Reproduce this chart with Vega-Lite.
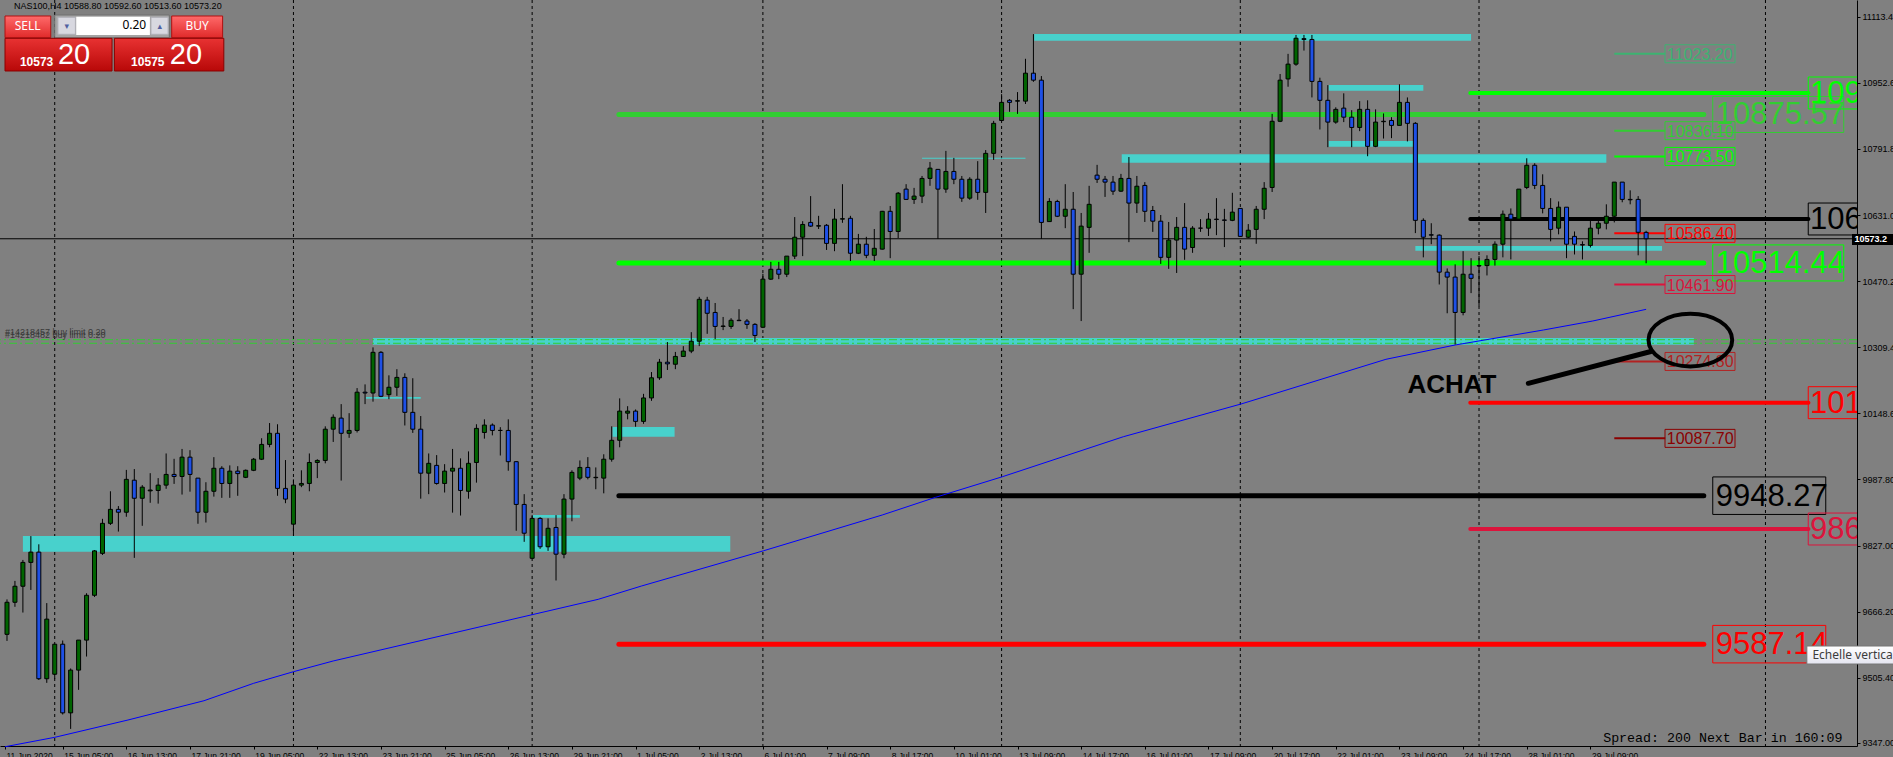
{
  "$schema": "https://vega.github.io/schema/vega-lite/v6.json",
  "width": 1857,
  "height": 746,
  "autosize": {"type": "none"},
  "padding": {"left": 0, "top": 0, "right": 36, "bottom": 11},
  "background": "#808080",
  "config": {
    "view": {"stroke": null},
    "axis": {"zindex": 0},
    "text": {"font": "Liberation Sans"}
  },
  "datasets": {
    "candles": [
      {"i":0,"o":9611,"h":9696,"l":9595,"c":9689},
      {"i":1,"o":9689,"h":9741,"l":9678,"c":9728},
      {"i":2,"o":9728,"h":9792,"l":9664,"c":9786},
      {"i":3,"o":9786,"h":9850,"l":9719,"c":9811},
      {"i":4,"o":9811,"h":9830,"l":9500,"c":9503},
      {"i":5,"o":9503,"h":9687,"l":9493,"c":9648},
      {"i":6,"o":9514,"h":9587,"l":9503,"c":9587},
      {"i":7,"o":9587,"h":9596,"l":9416,"c":9420},
      {"i":8,"o":9420,"h":9528,"l":9381,"c":9524},
      {"i":9,"o":9524,"h":9597,"l":9476,"c":9597},
      {"i":10,"o":9597,"h":9711,"l":9557,"c":9706},
      {"i":11,"o":9706,"h":9816,"l":9702,"c":9814},
      {"i":12,"o":9808,"h":9892,"l":9804,"c":9881},
      {"i":13,"o":9881,"h":9959,"l":9877,"c":9915},
      {"i":14,"o":9915,"h":9923,"l":9861,"c":9908},
      {"i":15,"o":9908,"h":10011,"l":9897,"c":9988},
      {"i":16,"o":9986,"h":10013,"l":9797,"c":9942},
      {"i":17,"o":9942,"h":9974,"l":9875,"c":9969},
      {"i":18,"o":9960,"h":10003,"l":9931,"c":9962},
      {"i":19,"o":9961,"h":9991,"l":9929,"c":9974},
      {"i":20,"o":9974,"h":10051,"l":9965,"c":10000},
      {"i":21,"o":10000,"h":10038,"l":9977,"c":9995},
      {"i":22,"o":9995,"h":10062,"l":9951,"c":10042},
      {"i":23,"o":10042,"h":10059,"l":9958,"c":10000},
      {"i":24,"o":9991,"h":9991,"l":9880,"c":9908},
      {"i":25,"o":9908,"h":9981,"l":9883,"c":9959},
      {"i":26,"o":9959,"h":10042,"l":9946,"c":10015},
      {"i":27,"o":10015,"h":10020,"l":9943,"c":9978},
      {"i":28,"o":9978,"h":10022,"l":9943,"c":10008},
      {"i":29,"o":10008,"h":10020,"l":9948,"c":10002},
      {"i":30,"o":9993,"h":10012,"l":9991,"c":10010},
      {"i":31,"o":10010,"h":10040,"l":10008,"c":10037},
      {"i":32,"o":10037,"h":10088,"l":10035,"c":10073},
      {"i":33,"o":10073,"h":10125,"l":10066,"c":10100},
      {"i":34,"o":10100,"h":10122,"l":9948,"c":9966},
      {"i":35,"o":9966,"h":10035,"l":9930,"c":9940},
      {"i":36,"o":9879,"h":9988,"l":9854,"c":9974},
      {"i":37,"o":9974,"h":10010,"l":9969,"c":9978},
      {"i":38,"o":9978,"h":10051,"l":9959,"c":10029},
      {"i":39,"o":10029,"h":10037,"l":9991,"c":10034},
      {"i":40,"o":10034,"h":10117,"l":10027,"c":10110},
      {"i":41,"o":10110,"h":10146,"l":10079,"c":10139},
      {"i":42,"o":10137,"h":10171,"l":9985,"c":10100},
      {"i":43,"o":10100,"h":10149,"l":10089,"c":10107},
      {"i":44,"o":10107,"h":10210,"l":10102,"c":10200},
      {"i":45,"o":10200,"h":10219,"l":10171,"c":10198},
      {"i":46,"o":10198,"h":10309,"l":10177,"c":10297},
      {"i":47,"o":10297,"h":10300,"l":10188,"c":10190},
      {"i":48,"o":10194,"h":10241,"l":10183,"c":10212},
      {"i":49,"o":10212,"h":10256,"l":10191,"c":10236},
      {"i":50,"o":10236,"h":10246,"l":10119,"c":10151},
      {"i":51,"o":10151,"h":10234,"l":10101,"c":10110},
      {"i":52,"o":10110,"h":10142,"l":9941,"c":10003},
      {"i":53,"o":10003,"h":10051,"l":9952,"c":10027},
      {"i":54,"o":10022,"h":10047,"l":9975,"c":9978},
      {"i":55,"o":9978,"h":10025,"l":9956,"c":10008},
      {"i":56,"o":10008,"h":10062,"l":9907,"c":10015},
      {"i":57,"o":10015,"h":10039,"l":9900,"c":9961},
      {"i":58,"o":9959,"h":10056,"l":9941,"c":10027},
      {"i":59,"o":10029,"h":10122,"l":9980,"c":10112},
      {"i":60,"o":10102,"h":10134,"l":10087,"c":10120},
      {"i":61,"o":10120,"h":10124,"l":10095,"c":10107},
      {"i":62,"o":10107,"h":10115,"l":10046,"c":10107},
      {"i":63,"o":10107,"h":10134,"l":10009,"c":10031},
      {"i":64,"o":10031,"h":10032,"l":9863,"c":9927},
      {"i":65,"o":9927,"h":9952,"l":9836,"c":9857},
      {"i":66,"o":9796,"h":9901,"l":9796,"c":9893},
      {"i":67,"o":9893,"h":9896,"l":9819,"c":9824},
      {"i":68,"o":9824,"h":9893,"l":9814,"c":9869},
      {"i":69,"o":9871,"h":9901,"l":9742,"c":9806},
      {"i":70,"o":9806,"h":9952,"l":9796,"c":9940},
      {"i":71,"o":9940,"h":10010,"l":9886,"c":10005},
      {"i":72,"o":9991,"h":10034,"l":9986,"c":10017},
      {"i":73,"o":10017,"h":10042,"l":9988,"c":9993},
      {"i":74,"o":9992,"h":10017,"l":9964,"c":9993},
      {"i":75,"o":9991,"h":10049,"l":9954,"c":10037},
      {"i":76,"o":10037,"h":10117,"l":10031,"c":10083},
      {"i":77,"o":10083,"h":10185,"l":10066,"c":10154},
      {"i":78,"o":10149,"h":10166,"l":10134,"c":10154},
      {"i":79,"o":10154,"h":10158,"l":10116,"c":10129},
      {"i":80,"o":10129,"h":10196,"l":10123,"c":10186},
      {"i":81,"o":10186,"h":10249,"l":10179,"c":10235},
      {"i":82,"o":10235,"h":10281,"l":10230,"c":10273},
      {"i":83,"o":10273,"h":10322,"l":10254,"c":10269},
      {"i":84,"o":10268,"h":10298,"l":10256,"c":10287},
      {"i":85,"o":10287,"h":10312,"l":10286,"c":10300},
      {"i":86,"o":10300,"h":10346,"l":10295,"c":10324},
      {"i":87,"o":10324,"h":10432,"l":10312,"c":10426},
      {"i":88,"o":10424,"h":10432,"l":10342,"c":10392},
      {"i":89,"o":10394,"h":10417,"l":10329,"c":10360},
      {"i":90,"o":10360,"h":10383,"l":10351,"c":10361},
      {"i":91,"o":10360,"h":10380,"l":10354,"c":10375},
      {"i":92,"o":10375,"h":10402,"l":10373,"c":10374},
      {"i":93,"o":10373,"h":10378,"l":10354,"c":10365},
      {"i":94,"o":10365,"h":10368,"l":10322,"c":10338},
      {"i":95,"o":10358,"h":10488,"l":10356,"c":10475},
      {"i":96,"o":10475,"h":10517,"l":10473,"c":10499},
      {"i":97,"o":10499,"h":10517,"l":10475,"c":10487},
      {"i":98,"o":10487,"h":10531,"l":10480,"c":10531},
      {"i":99,"o":10531,"h":10626,"l":10524,"c":10577},
      {"i":100,"o":10577,"h":10616,"l":10531,"c":10608},
      {"i":101,"o":10613,"h":10677,"l":10602,"c":10604},
      {"i":102,"o":10604,"h":10629,"l":10597,"c":10605},
      {"i":103,"o":10606,"h":10609,"l":10546,"c":10562},
      {"i":104,"o":10562,"h":10646,"l":10543,"c":10621},
      {"i":105,"o":10621,"h":10706,"l":10612,"c":10622},
      {"i":106,"o":10623,"h":10629,"l":10519,"c":10538},
      {"i":107,"o":10538,"h":10585,"l":10536,"c":10560},
      {"i":108,"o":10560,"h":10578,"l":10526,"c":10533},
      {"i":109,"o":10533,"h":10597,"l":10519,"c":10550},
      {"i":110,"o":10548,"h":10641,"l":10547,"c":10640},
      {"i":111,"o":10640,"h":10653,"l":10526,"c":10591},
      {"i":112,"o":10591,"h":10687,"l":10575,"c":10684},
      {"i":113,"o":10694,"h":10706,"l":10668,"c":10669},
      {"i":114,"o":10669,"h":10697,"l":10658,"c":10677},
      {"i":115,"o":10677,"h":10726,"l":10660,"c":10720},
      {"i":116,"o":10720,"h":10760,"l":10702,"c":10745},
      {"i":117,"o":10742,"h":10743,"l":10573,"c":10694},
      {"i":118,"o":10694,"h":10787,"l":10685,"c":10737},
      {"i":119,"o":10737,"h":10770,"l":10706,"c":10718},
      {"i":120,"o":10718,"h":10726,"l":10663,"c":10672},
      {"i":121,"o":10672,"h":10723,"l":10668,"c":10718},
      {"i":122,"o":10718,"h":10762,"l":10668,"c":10686},
      {"i":123,"o":10686,"h":10789,"l":10636,"c":10781},
      {"i":124,"o":10781,"h":10860,"l":10765,"c":10854},
      {"i":125,"o":10861,"h":10925,"l":10861,"c":10905},
      {"i":126,"o":10910,"h":10913,"l":10882,"c":10905},
      {"i":127,"o":10908,"h":10930,"l":10877,"c":10909},
      {"i":128,"o":10908,"h":11011,"l":10901,"c":10976},
      {"i":129,"o":10976,"h":11071,"l":10955,"c":10959},
      {"i":130,"o":10959,"h":10969,"l":10573,"c":10613},
      {"i":131,"o":10615,"h":10672,"l":10614,"c":10664},
      {"i":132,"o":10664,"h":10668,"l":10626,"c":10628},
      {"i":133,"o":10628,"h":10706,"l":10599,"c":10645},
      {"i":134,"o":10645,"h":10687,"l":10402,"c":10487},
      {"i":135,"o":10487,"h":10636,"l":10373,"c":10604},
      {"i":136,"o":10601,"h":10702,"l":10539,"c":10657},
      {"i":137,"o":10728,"h":10753,"l":10709,"c":10718},
      {"i":138,"o":10718,"h":10726,"l":10675,"c":10711},
      {"i":139,"o":10711,"h":10726,"l":10680,"c":10689},
      {"i":140,"o":10689,"h":10731,"l":10687,"c":10720},
      {"i":141,"o":10720,"h":10772,"l":10565,"c":10660},
      {"i":142,"o":10660,"h":10726,"l":10636,"c":10701},
      {"i":143,"o":10703,"h":10711,"l":10614,"c":10640},
      {"i":144,"o":10642,"h":10653,"l":10590,"c":10616},
      {"i":145,"o":10616,"h":10631,"l":10512,"c":10528},
      {"i":146,"o":10528,"h":10614,"l":10500,"c":10570},
      {"i":147,"o":10570,"h":10626,"l":10490,"c":10601},
      {"i":148,"o":10601,"h":10660,"l":10522,"c":10548},
      {"i":149,"o":10552,"h":10604,"l":10539,"c":10599},
      {"i":150,"o":10599,"h":10621,"l":10590,"c":10599},
      {"i":151,"o":10599,"h":10636,"l":10580,"c":10621},
      {"i":152,"o":10621,"h":10672,"l":10582,"c":10620},
      {"i":153,"o":10619,"h":10646,"l":10553,"c":10618},
      {"i":154,"o":10618,"h":10685,"l":10616,"c":10638},
      {"i":155,"o":10647,"h":10648,"l":10578,"c":10579},
      {"i":156,"o":10577,"h":10609,"l":10575,"c":10594},
      {"i":157,"o":10596,"h":10653,"l":10561,"c":10645},
      {"i":158,"o":10645,"h":10711,"l":10621,"c":10696},
      {"i":159,"o":10698,"h":10877,"l":10687,"c":10859},
      {"i":160,"o":10859,"h":10974,"l":10857,"c":10959},
      {"i":161,"o":10962,"h":11023,"l":10943,"c":10998},
      {"i":162,"o":10998,"h":11069,"l":10994,"c":11061},
      {"i":163,"o":11060,"h":11069,"l":11031,"c":11058},
      {"i":164,"o":11058,"h":11069,"l":10917,"c":10956},
      {"i":165,"o":10956,"h":10965,"l":10839,"c":10910},
      {"i":166,"o":10910,"h":10947,"l":10796,"c":10857},
      {"i":167,"o":10857,"h":10893,"l":10853,"c":10888},
      {"i":168,"o":10891,"h":10927,"l":10857,"c":10869},
      {"i":169,"o":10869,"h":10886,"l":10796,"c":10844},
      {"i":170,"o":10844,"h":10908,"l":10835,"c":10888},
      {"i":171,"o":10888,"h":10910,"l":10774,"c":10798},
      {"i":172,"o":10798,"h":10888,"l":10796,"c":10857},
      {"i":173,"o":10858,"h":10878,"l":10817,"c":10859},
      {"i":174,"o":10861,"h":10869,"l":10818,"c":10849},
      {"i":175,"o":10849,"h":10949,"l":10849,"c":10905},
      {"i":176,"o":10905,"h":10917,"l":10810,"c":10854},
      {"i":177,"o":10854,"h":10857,"l":10587,"c":10618},
      {"i":178,"o":10618,"h":10623,"l":10528,"c":10577},
      {"i":179,"o":10583,"h":10611,"l":10560,"c":10582},
      {"i":180,"o":10582,"h":10584,"l":10462,"c":10492},
      {"i":181,"o":10492,"h":10501,"l":10392,"c":10480},
      {"i":182,"o":10480,"h":10511,"l":10316,"c":10394},
      {"i":183,"o":10394,"h":10543,"l":10387,"c":10487},
      {"i":184,"o":10487,"h":10526,"l":10441,"c":10477},
      {"i":185,"o":10507,"h":10531,"l":10409,"c":10508},
      {"i":186,"o":10508,"h":10533,"l":10484,"c":10523},
      {"i":187,"o":10523,"h":10567,"l":10508,"c":10560},
      {"i":188,"o":10560,"h":10642,"l":10528,"c":10633},
      {"i":189,"o":10633,"h":10647,"l":10523,"c":10621},
      {"i":190,"o":10621,"h":10694,"l":10620,"c":10694},
      {"i":191,"o":10698,"h":10769,"l":10694,"c":10752},
      {"i":192,"o":10752,"h":10757,"l":10694,"c":10703},
      {"i":193,"o":10703,"h":10730,"l":10635,"c":10647},
      {"i":194,"o":10647,"h":10672,"l":10567,"c":10596},
      {"i":195,"o":10599,"h":10664,"l":10584,"c":10650},
      {"i":196,"o":10650,"h":10650,"l":10526,"c":10560},
      {"i":197,"o":10579,"h":10591,"l":10535,"c":10560},
      {"i":198,"o":10559,"h":10567,"l":10523,"c":10558},
      {"i":199,"o":10557,"h":10618,"l":10552,"c":10599},
      {"i":200,"o":10599,"h":10618,"l":10584,"c":10611},
      {"i":201,"o":10611,"h":10657,"l":10596,"c":10628},
      {"i":202,"o":10628,"h":10711,"l":10613,"c":10711},
      {"i":203,"o":10711,"h":10711,"l":10662,"c":10669},
      {"i":204,"o":10669,"h":10691,"l":10657,"c":10668},
      {"i":205,"o":10669,"h":10677,"l":10533,"c":10589},
      {"i":206,"o":10588.8,"h":10592.6,"l":10513.6,"c":10573.2}
    ],
    "ma": [
      {"i":-0.25,"v":9337.6},{"i":6,"v":9360.5},{"i":15.2,"v":9402.6},{"i":24.75,"v":9449.5},
      {"i":31,"v":9491.9},{"i":36,"v":9520.1},{"i":41,"v":9546.2},{"i":74.3,"v":9696.2},
      {"i":79.75,"v":9728.6},{"i":95.1,"v":9814.4},{"i":110,"v":9901.3},{"i":116.7,"v":9944.3},
      {"i":125.1,"v":9994.4},{"i":140.3,"v":10091.7},{"i":155.1,"v":10171.3},{"i":173.3,"v":10280},
      {"i":182,"v":10314.8},{"i":193.1,"v":10351.3},{"i":199.3,"v":10373.2},{"i":206,"v":10401.6}
    ],
    "zones": [
      {"i0":129.1,"i1":184,"top":11071.3,"bottom":11055.0},
      {"i0":166.1,"i1":178,"top":10947.2,"bottom":10933.4},
      {"i0":140.1,"i1":201,"top":10778.7,"bottom":10758.2},
      {"i0":166.1,"i1":176.75,"top":10811.0,"bottom":10797.2},
      {"i0":177,"i1":208,"top":10555.6,"bottom":10544.2},
      {"i0":46,"i1":212,"top":10331.8,"bottom":10315.5},
      {"i0":45.1,"i1":52,"top":10188.3,"bottom":10184.2},
      {"i0":76.1,"i1":83.9,"top":10115.3,"bottom":10091.7},
      {"i0":66.1,"i1":72,"top":9901.3,"bottom":9894.7},
      {"i0":2,"i1":90.9,"top":9850.2,"bottom":9812.0},
      {"i0":115,"i1":128,"top":10770.1,"bottom":10767.7}
    ],
    "levels": [
      {"set":"W","role":"R2","price":10875.57},
      {"set":"W","role":"R1","price":10514.44},
      {"set":"W","role":"P","price":9948.27},
      {"set":"W","role":"S1","price":9587.14},
      {"set":"D","role":"R1","price":10927.8},
      {"set":"D","role":"P","price":10621.3},
      {"set":"D","role":"S1","price":10174.5},
      {"set":"D","role":"S2","price":9867.2},
      {"set":"M","role":"R3","price":11023.2},
      {"set":"M","role":"R2","price":10836.1},
      {"set":"M","role":"R1","price":10773.5},
      {"set":"M","role":"S1","price":10586.4},
      {"set":"M","role":"S2","price":10461.9},
      {"set":"M","role":"S3","price":10274.8},
      {"set":"M","role":"S4","price":10087.7}
    ],
    "orders": [
      {"label":"#14218457 buy limit 0.20","price":10327.7},
      {"label":"#14218482 buy limit 0.20","price":10319.0}
    ],
    "separators": [{"i":6},{"i":36},{"i":66},{"i":95},{"i":125},{"i":155},{"i":185},{"i":221}]
  },
  "layer": [
    {
      "data": {"name": "separators"},
      "mark": {"type": "rule", "color": "#000000", "strokeWidth": 1, "strokeDash": [3, 3]},
      "encoding": {
        "x": {"field": "i", "type": "quantitative", "title": null,
          "scale": {"domain": [-0.25, 231.875], "nice": false, "zero": false},
          "axis": {
            "title": null, "grid": false,
            "values": [-0.25,7,15,23,31,39,47,55,63,71,79,87,95,103,111,119,127,135,143,151,159,167,175,183,191,199],
            "labelExpr": "datum.value < 0 ? '11 Jun 2020' : ['15 Jun 05:00','16 Jun 13:00','17 Jun 21:00','19 Jun 05:00','22 Jun 13:00','23 Jun 21:00','25 Jun 05:00','26 Jun 13:00','29 Jun 21:00','1 Jul 05:00','2 Jul 13:00','6 Jul 01:00','7 Jul 09:00','8 Jul 17:00','10 Jul 01:00','13 Jul 09:00','14 Jul 17:00','16 Jul 01:00','17 Jul 09:00','20 Jul 17:00','22 Jul 01:00','23 Jul 09:00','24 Jul 17:00','28 Jul 01:00','29 Jul 09:00'][(datum.value - 7) / 8]",
            "domainColor": "#000000", "domainWidth": 1, "tickColor": "#000000", "tickSize": 3,
            "labelColor": "#000000", "labelFont": "Liberation Sans", "labelFontSize": 8.5,
            "labelAlign": "left", "labelBaseline": "top", "labelPadding": 2, "labelOffset": 1,
            "labelOverlap": false, "labelFlush": false, "labelBound": false
          }
        }
      }
    },
    {
      "data": {"name": "zones"},
      "mark": {"type": "rect", "color": "#48d1cc"},
      "encoding": {
        "x": {"field": "i0", "type": "quantitative", "title": null},
        "x2": {"field": "i1"},
        "y": {"field": "top", "type": "quantitative", "title": null,
          "scale": {"domain": [9339.4, 11154], "nice": false, "zero": false},
          "axis": {
            "title": null, "grid": false, "orient": "right", "format": ".2f",
            "values": [9347.0,9426.2,9505.4,9587.0,9666.2,9747.8,9827.0,9908.6,9987.8,10069.4,10148.6,10230.2,10309.4,10388.6,10470.2,10549.4,10631.0,10710.2,10791.8,10871.0,10952.6,11031.8,11113.4],
            "domainColor": "#000000", "domainWidth": 1, "tickColor": "#000000", "tickSize": 3,
            "labelColor": "#000000", "labelFont": "Liberation Sans", "labelFontSize": 9,
            "labelAlign": "left", "labelBaseline": "middle", "labelPadding": 2,
            "labelOverlap": false, "labelFlush": false, "labelBound": false
          }
        },
        "y2": {"field": "bottom"}
      }
    },
    {
      "data": {"name": "orders"},
      "mark": {"type": "rule", "color": "#32cd32", "strokeWidth": 1, "strokeDash": [8, 3, 2, 3]},
      "encoding": {"y": {"field": "price", "type": "quantitative", "title": null}}
    },
    {
      "data": {"name": "orders"},
      "mark": {"type": "text", "align": "left", "baseline": "bottom", "dy": -3, "fontSize": 9, "color": "#3a3a3a", "font": "Liberation Sans"},
      "encoding": {
        "x": {"datum": -0.25, "type": "quantitative"},
        "y": {"field": "price", "type": "quantitative", "title": null},
        "text": {"field": "label", "type": "nominal"}
      }
    },
    {
      "data": {"name": "levels"},
      "transform": [{"filter": "datum.set == 'W'"}],
      "mark": {"type": "rule", "strokeWidth": 5, "strokeCap": "round"},
      "encoding": {
        "x": {"datum": 76.9, "type": "quantitative"},
        "x2": {"datum": 213.25},
        "y": {"field": "price", "type": "quantitative", "title": null},
        "color": {"field": "role", "type": "nominal", "legend": null,
          "scale": {"domain": ["R3","R2","R1","P","S1","S2","S3","S4"], "range": ["#3cb371","#32cd32","#00ff00","#000000","#ff0000","#dc143c","#b22222","#8b0000"]}}
      }
    },
    {
      "data": {"name": "levels"},
      "transform": [{"filter": "datum.set == 'D'"}],
      "mark": {"type": "rule", "strokeWidth": 4, "strokeCap": "round"},
      "encoding": {
        "x": {"datum": 183.9, "type": "quantitative"},
        "x2": {"datum": 226.4},
        "y": {"field": "price", "type": "quantitative", "title": null},
        "color": {"field": "role", "type": "nominal", "legend": null,
          "scale": {"domain": ["R3","R2","R1","P","S1","S2","S3","S4"], "range": ["#3cb371","#32cd32","#00ff00","#000000","#ff0000","#dc143c","#b22222","#8b0000"]}}
      }
    },
    {
      "data": {"name": "levels"},
      "transform": [{"filter": "datum.set == 'M'"}],
      "mark": {"type": "rule", "strokeWidth": 2},
      "encoding": {
        "x": {"datum": 202, "type": "quantitative"},
        "x2": {"datum": 208.4},
        "y": {"field": "price", "type": "quantitative", "title": null},
        "color": {"field": "role", "type": "nominal", "legend": null,
          "scale": {"domain": ["R3","R2","R1","P","S1","S2","S3","S4"], "range": ["#3cb371","#32cd32","#00ff00","#000000","#ff0000","#dc143c","#b22222","#8b0000"]}}
      }
    },
    {
      "data": {"name": "ma"},
      "mark": {"type": "line", "color": "#0000ff", "strokeWidth": 1},
      "encoding": {
        "x": {"field": "i", "type": "quantitative", "title": null},
        "y": {"field": "v", "type": "quantitative", "title": null}
      }
    },
    {
      "data": {"values": [{}]},
      "mark": {"type": "rule", "color": "#000000", "strokeWidth": 1},
      "encoding": {"y": {"datum": 10573.2, "type": "quantitative"}}
    },
    {
      "data": {"name": "candles"},
      "mark": {"type": "rule", "color": "#000000", "strokeWidth": 1},
      "encoding": {
        "x": {"field": "i", "type": "quantitative", "title": null},
        "y": {"field": "l", "type": "quantitative", "title": null},
        "y2": {"field": "h"}
      }
    },
    {
      "data": {"name": "candles"},
      "mark": {"type": "bar", "width": 4, "stroke": "#000000", "strokeWidth": 1},
      "encoding": {
        "x": {"field": "i", "type": "quantitative", "title": null},
        "y": {"field": "o", "type": "quantitative", "title": null},
        "y2": {"field": "c"},
        "fill": {"condition": {"test": "datum.c >= datum.o", "value": "#006400"}, "value": "#1e50e6"}
      }
    },
    {
      "data": {"name": "levels"},
      "transform": [{"filter": "datum.set == 'W'"}],
      "mark": {"type": "point", "filled": false, "opacity": 1, "strokeWidth": 1},
      "encoding": {
        "x": {"datum": 214.375, "type": "quantitative"},
        "y": {"field": "price", "type": "quantitative", "title": null},
        "shape": {"condition": {"test": "datum.price >= 10000", "value": "M0,-0.275L2,-0.275L2,0.275L0,0.275Z"}, "value": "M0,-0.332L2,-0.332L2,0.332L0,0.332Z"},
        "size": {"condition": {"test": "datum.price >= 10000", "value": 17161}, "value": 12769},
        "color": {"field": "role", "type": "nominal", "legend": null,
          "scale": {"domain": ["R3","R2","R1","P","S1","S2","S3","S4"], "range": ["#3cb371","#32cd32","#00ff00","#000000","#ff0000","#dc143c","#b22222","#8b0000"]}}
      }
    },
    {
      "data": {"name": "levels"},
      "transform": [{"filter": "datum.set == 'W'"}],
      "mark": {"type": "text", "align": "left", "baseline": "middle", "fontSize": 31, "font": "Liberation Sans", "dy": 1},
      "encoding": {
        "x": {"datum": 214.75, "type": "quantitative"},
        "y": {"field": "price", "type": "quantitative", "title": null},
        "text": {"field": "price", "type": "quantitative", "format": ".2f"},
        "color": {"field": "role", "type": "nominal", "legend": null,
          "scale": {"domain": ["R3","R2","R1","P","S1","S2","S3","S4"], "range": ["#3cb371","#32cd32","#00ff00","#000000","#ff0000","#dc143c","#b22222","#8b0000"]}}
      }
    },
    {
      "data": {"name": "levels"},
      "transform": [{"filter": "datum.set == 'D'"}],
      "mark": {"type": "point", "filled": false, "opacity": 1, "strokeWidth": 1, "clip": true},
      "encoding": {
        "x": {"datum": 226.375, "type": "quantitative"},
        "y": {"field": "price", "type": "quantitative", "title": null},
        "shape": {"value": "M0,-0.244L2,-0.244L2,0.244L0,0.244Z"},
        "size": {"value": 17161},
        "color": {"field": "role", "type": "nominal", "legend": null,
          "scale": {"domain": ["R3","R2","R1","P","S1","S2","S3","S4"], "range": ["#3cb371","#32cd32","#00ff00","#000000","#ff0000","#dc143c","#b22222","#8b0000"]}}
      }
    },
    {
      "data": {"name": "levels"},
      "transform": [{"filter": "datum.set == 'D'"}],
      "mark": {"type": "text", "align": "left", "baseline": "middle", "fontSize": 31, "font": "Liberation Sans", "dy": 1, "clip": true},
      "encoding": {
        "x": {"datum": 226.6, "type": "quantitative"},
        "y": {"field": "price", "type": "quantitative", "title": null},
        "text": {"field": "price", "type": "quantitative", "format": ".2f"},
        "color": {"field": "role", "type": "nominal", "legend": null,
          "scale": {"domain": ["R3","R2","R1","P","S1","S2","S3","S4"], "range": ["#3cb371","#32cd32","#00ff00","#000000","#ff0000","#dc143c","#b22222","#8b0000"]}}
      }
    },
    {
      "data": {"name": "levels"},
      "transform": [{"filter": "datum.set == 'M'"}],
      "mark": {"type": "point", "filled": false, "opacity": 1, "strokeWidth": 1},
      "encoding": {
        "x": {"datum": 208.375, "type": "quantitative"},
        "y": {"field": "price", "type": "quantitative", "title": null},
        "shape": {"value": "M0,-0.257L2,-0.257L2,0.257L0,0.257Z"},
        "size": {"value": 4900},
        "color": {"field": "role", "type": "nominal", "legend": null,
          "scale": {"domain": ["R3","R2","R1","P","S1","S2","S3","S4"], "range": ["#3cb371","#32cd32","#00ff00","#000000","#ff0000","#dc143c","#b22222","#8b0000"]}}
      }
    },
    {
      "data": {"name": "levels"},
      "transform": [{"filter": "datum.set == 'M'"}],
      "mark": {"type": "text", "align": "left", "baseline": "middle", "fontSize": 16, "font": "Liberation Sans", "dy": 1},
      "encoding": {
        "x": {"datum": 208.6, "type": "quantitative"},
        "y": {"field": "price", "type": "quantitative", "title": null},
        "text": {"field": "price", "type": "quantitative", "format": ".2f"},
        "color": {"field": "role", "type": "nominal", "legend": null,
          "scale": {"domain": ["R3","R2","R1","P","S1","S2","S3","S4"], "range": ["#3cb371","#32cd32","#00ff00","#000000","#ff0000","#dc143c","#b22222","#8b0000"]}}
      }
    },
    {
      "data": {"values": [{}]},
      "mark": {"type": "point", "filled": false, "opacity": 1, "stroke": "#000000", "strokeWidth": 4},
      "encoding": {
        "x": {"datum": 211.56, "type": "quantitative"},
        "y": {"datum": 10326.9, "type": "quantitative"},
        "shape": {"value": "M-1,0A1,0.63 0 1,0 1,0A1,0.63 0 1,0 -1,0Z"},
        "size": {"value": 7006}
      }
    },
    {
      "data": {"values": [{}]},
      "mark": {"type": "rule", "color": "#000000", "strokeWidth": 5, "strokeCap": "round"},
      "encoding": {
        "x": {"datum": 191.2, "type": "quantitative"},
        "x2": {"datum": 206.6},
        "y": {"datum": 10221.6, "type": "quantitative"},
        "y2": {"datum": 10299}
      }
    },
    {
      "data": {"values": [{}]},
      "mark": {"type": "text", "text": "ACHAT", "align": "left", "baseline": "middle", "fontSize": 26, "fontWeight": "bold", "font": "Liberation Sans", "color": "#000000"},
      "encoding": {
        "x": {"datum": 176, "type": "quantitative"},
        "y": {"datum": 10217.5, "type": "quantitative"}
      }
    },
    {
      "data": {"values": [{}]},
      "mark": {"type": "text", "text": "NAS100,H4  10588.80 10592.60 10513.60 10573.20", "align": "left", "baseline": "middle", "fontSize": 9, "font": "Liberation Sans", "color": "#000000"},
      "encoding": {
        "x": {"datum": 0.875, "type": "quantitative"},
        "y": {"datum": 11138.2, "type": "quantitative"}
      }
    },
    {
      "data": {"values": [{}]},
      "mark": {"type": "rect", "stroke": "#707070", "strokeWidth": 1, "fill": "#a4a4a4"},
      "encoding": {
        "x": {"datum": 6, "type": "quantitative"}, "x2": {"datum": 20.4},
        "y": {"datum": 11117.5, "type": "quantitative"}, "y2": {"datum": 11062.3}
      }
    },
    {
      "data": {"values": [{}]},
      "mark": {"type": "rect", "fill": "#ffffff"},
      "encoding": {
        "x": {"datum": 8.7, "type": "quantitative"}, "x2": {"datum": 17.96},
        "y": {"datum": 11113.4, "type": "quantitative"}, "y2": {"datum": 11068.9}
      }
    },
    {
      "data": {"values": [{}]},
      "mark": {"type": "rect", "fill": "#d8d8e0", "stroke": "#b0b0b8", "strokeWidth": 1},
      "encoding": {
        "x": {"datum": 6.4, "type": "quantitative"}, "x2": {"datum": 8.6},
        "y": {"datum": 11111.9, "type": "quantitative"}, "y2": {"datum": 11070.6}
      }
    },
    {
      "data": {"values": [{}]},
      "mark": {"type": "rect", "fill": "#d8d8e0", "stroke": "#b0b0b8", "strokeWidth": 1},
      "encoding": {
        "x": {"datum": 18.1, "type": "quantitative"}, "x2": {"datum": 20.25},
        "y": {"datum": 11111.9, "type": "quantitative"}, "y2": {"datum": 11070.6}
      }
    },
    {
      "data": {"values": [{}]},
      "mark": {"type": "text", "text": "▾", "align": "center", "baseline": "middle", "fontSize": 9, "font": "DejaVu Sans", "color": "#5060a0"},
      "encoding": {
        "x": {"datum": 7.5, "type": "quantitative"},
        "y": {"datum": 11091, "type": "quantitative"}
      }
    },
    {
      "data": {"values": [{}]},
      "mark": {"type": "text", "text": "▴", "align": "center", "baseline": "middle", "fontSize": 9, "font": "DejaVu Sans", "color": "#5060a0"},
      "encoding": {
        "x": {"datum": 19.2, "type": "quantitative"},
        "y": {"datum": 11091, "type": "quantitative"}
      }
    },
    {
      "data": {"values": [{}]},
      "mark": {"type": "rect", "stroke": "#b01010", "strokeWidth": 1,
        "fill": {"gradient": "linear", "x1": 0, "y1": 0, "x2": 0, "y2": 1, "stops": [{"offset": 0, "color": "#ff6a6a"}, {"offset": 1, "color": "#e02a2a"}]}},
      "encoding": {
        "x": {"datum": -0.25, "type": "quantitative"}, "x2": {"datum": 5.5},
        "y": {"datum": 11115.1, "type": "quantitative"}, "y2": {"datum": 11062.3}
      }
    },
    {
      "data": {"values": [{}]},
      "mark": {"type": "rect", "stroke": "#b01010", "strokeWidth": 1,
        "fill": {"gradient": "linear", "x1": 0, "y1": 0, "x2": 0, "y2": 1, "stops": [{"offset": 0, "color": "#ff6a6a"}, {"offset": 1, "color": "#e02a2a"}]}},
      "encoding": {
        "x": {"datum": 20.7, "type": "quantitative"}, "x2": {"datum": 27.1},
        "y": {"datum": 11115.1, "type": "quantitative"}, "y2": {"datum": 11062.3}
      }
    },
    {
      "data": {"values": [{}]},
      "mark": {"type": "rect", "stroke": "#8b0000", "strokeWidth": 1,
        "fill": {"gradient": "linear", "x1": 0, "y1": 0, "x2": 0, "y2": 1, "stops": [{"offset": 0, "color": "#e83232"}, {"offset": 1, "color": "#b80808"}]}},
      "encoding": {
        "x": {"datum": -0.25, "type": "quantitative"}, "x2": {"datum": 13.2},
        "y": {"datum": 11060.8, "type": "quantitative"}, "y2": {"datum": 10981.3}
      }
    },
    {
      "data": {"values": [{}]},
      "mark": {"type": "rect", "stroke": "#8b0000", "strokeWidth": 1,
        "fill": {"gradient": "linear", "x1": 0, "y1": 0, "x2": 0, "y2": 1, "stops": [{"offset": 0, "color": "#e83232"}, {"offset": 1, "color": "#b80808"}]}},
      "encoding": {
        "x": {"datum": 13.5, "type": "quantitative"}, "x2": {"datum": 27.25},
        "y": {"datum": 11060.8, "type": "quantitative"}, "y2": {"datum": 10981.3}
      }
    },
    {
      "data": {"values": [{}]},
      "mark": {"type": "text", "text": "SELL", "align": "center", "baseline": "middle", "fontSize": 12, "font": "Noto Sans", "color": "#ffffff"},
      "encoding": {"x": {"datum": 2.6, "type": "quantitative"}, "y": {"datum": 11090.8, "type": "quantitative"}}
    },
    {
      "data": {"values": [{}]},
      "mark": {"type": "text", "text": "BUY", "align": "center", "baseline": "middle", "fontSize": 12, "font": "Noto Sans", "color": "#ffffff"},
      "encoding": {"x": {"datum": 23.9, "type": "quantitative"}, "y": {"datum": 11090.8, "type": "quantitative"}}
    },
    {
      "data": {"values": [{}]},
      "mark": {"type": "text", "text": "0.20", "align": "right", "baseline": "middle", "fontSize": 12, "font": "Noto Sans", "color": "#000000"},
      "encoding": {"x": {"datum": 17.5, "type": "quantitative"}, "y": {"datum": 11092.5, "type": "quantitative"}}
    },
    {
      "data": {"values": [{}]},
      "mark": {"type": "text", "text": "10573", "align": "left", "baseline": "middle", "fontSize": 12, "fontWeight": "bold", "font": "Liberation Sans", "color": "#ffffff"},
      "encoding": {"x": {"datum": 1.625, "type": "quantitative"}, "y": {"datum": 11003.9, "type": "quantitative"}}
    },
    {
      "data": {"values": [{}]},
      "mark": {"type": "text", "text": "20", "align": "left", "baseline": "middle", "fontSize": 29, "font": "Liberation Sans", "color": "#ffffff"},
      "encoding": {"x": {"datum": 6.4, "type": "quantitative"}, "y": {"datum": 11020.7, "type": "quantitative"}}
    },
    {
      "data": {"values": [{}]},
      "mark": {"type": "text", "text": "10575", "align": "left", "baseline": "middle", "fontSize": 12, "fontWeight": "bold", "font": "Liberation Sans", "color": "#ffffff"},
      "encoding": {"x": {"datum": 15.6, "type": "quantitative"}, "y": {"datum": 11003.9, "type": "quantitative"}}
    },
    {
      "data": {"values": [{}]},
      "mark": {"type": "text", "text": "20", "align": "left", "baseline": "middle", "fontSize": 29, "font": "Liberation Sans", "color": "#ffffff"},
      "encoding": {"x": {"datum": 20.46, "type": "quantitative"}, "y": {"datum": 11020.7, "type": "quantitative"}}
    },
    {
      "data": {"values": [{}]},
      "mark": {"type": "text", "text": "Spread: 200 Next Bar in 160:09", "align": "left", "baseline": "middle", "fontSize": 13.3, "font": "Liberation Mono", "color": "#000000"},
      "encoding": {"x": {"datum": 200.6, "type": "quantitative"}, "y": {"datum": 9359.6, "type": "quantitative"}}
    },
    {
      "data": {"values": [{}]},
      "mark": {"type": "rect", "fill": "#000000"},
      "encoding": {
        "x": {"datum": 231.875, "type": "quantitative"}, "x2": {"datum": 240},
        "y": {"datum": 10585, "type": "quantitative"}, "y2": {"datum": 10558}
      }
    },
    {
      "data": {"values": [{}]},
      "mark": {"type": "text", "text": "10573.2", "align": "left", "baseline": "middle", "fontSize": 9, "fontWeight": "bold", "font": "Liberation Sans", "color": "#ffffff"},
      "encoding": {"x": {"datum": 232.2, "type": "quantitative"}, "y": {"datum": 10571.5, "type": "quantitative"}}
    },
    {
      "data": {"values": [{}]},
      "mark": {"type": "rect", "stroke": "#767676", "strokeWidth": 1,
        "fill": {"gradient": "linear", "x1": 0, "y1": 0, "x2": 0, "y2": 1, "stops": [{"offset": 0, "color": "#ffffff"}, {"offset": 1, "color": "#e4e5f0"}]}},
      "encoding": {
        "x": {"datum": 226.2, "type": "quantitative"}, "x2": {"datum": 240},
        "y": {"datum": 9582.6, "type": "quantitative"}, "y2": {"datum": 9538.8}
      }
    },
    {
      "data": {"values": [{}]},
      "mark": {"type": "text", "text": "Echelle verticale", "align": "left", "baseline": "middle", "fontSize": 12, "font": "Noto Sans", "color": "#3c3c3c"},
      "encoding": {"x": {"datum": 226.9, "type": "quantitative"}, "y": {"datum": 9560.7, "type": "quantitative"}}
    }
  ]
}
